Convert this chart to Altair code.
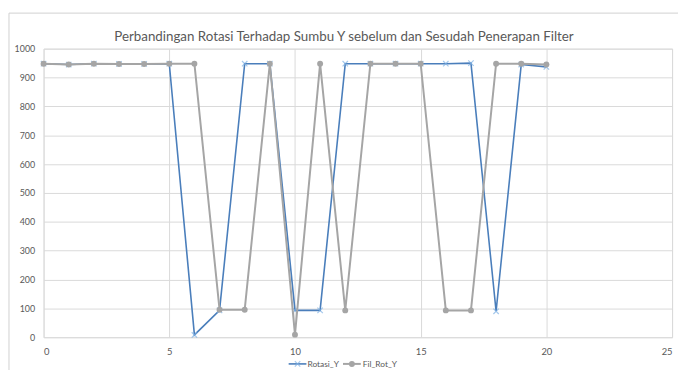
import altair as alt
import pandas as pd

title_text = "Perbandingan Rotasi Terhadap Sumbu Y sebelum dan Sesudah Penerapan Filter"
x_index = list(range(21))
rotasi_y = [948, 945, 948, 947, 947, 948, 8, 93, 948, 948, 93, 93, 948, 948, 948, 948, 948, 950, 90, 945, 937]
fil_rot_y = [948, 945, 948, 947, 947, 948, 948, 95, 95, 948, 9, 948, 93, 948, 948, 948, 93, 93, 948, 948, 945]
series_names = ["Rotasi_Y", "Fil_Rot_Y"]
x_ticks = [0, 5, 10, 15, 20, 25]
y_ticks = list(range(0, 1001, 100))

BLUE = "#4a7ebb"
BLUE_MK = "#7fb2e5"
GRAY = "#a5a5a5"
FONT = "Lato"
W, H = 636, 292

df = pd.DataFrame({
    "x": x_index * 2,
    "y": rotasi_y + fil_rot_y,
    "s": [series_names[0]] * 21 + [series_names[1]] * 21,
})
df_b = df[df.s == series_names[0]]
df_g = df[df.s == series_names[1]]

xs = alt.Scale(domain=[0, 25], nice=False, zero=False)
ys = alt.Scale(domain=[0, 1000], nice=False)


def xax():
    return alt.Axis(values=x_ticks, title=None, grid=True, gridColor="#d9d9d9", domain=False,
                    ticks=False, labelFontSize=9.5, labelColor="#595959", labelFont=FONT,
                    labelPadding=9, format="d", labelOverlap=False)


def yax():
    return alt.Axis(values=y_ticks, title=None, grid=True, gridColor="#d9d9d9", domain=False,
                    ticks=False, labelFontSize=9, labelColor="#595959", labelFont=FONT,
                    labelPadding=9, format="d", labelOverlap=False, tickCount=11)


def enc(ch):
    return ch.encode(x=alt.X("x:Q", scale=xs, axis=xax()), y=alt.Y("y:Q", scale=ys, axis=yax()))


line_b = enc(alt.Chart(df_b).mark_line(color=BLUE, strokeWidth=1.6))
pt_b = enc(alt.Chart(df_b).mark_point(shape="M-1,-1L1,1M-1,1L1,-1", filled=False, color=BLUE_MK,
                                      size=30, strokeWidth=1.2))
line_g = enc(alt.Chart(df_g).mark_line(color=GRAY, strokeWidth=2))
pt_g = enc(alt.Chart(df_g).mark_point(shape="circle", filled=True, color=GRAY, size=36, opacity=1))

title_df = pd.DataFrame({"t": [title_text]})
title = alt.Chart(title_df).mark_text(font=FONT, fontSize=13.5, color="#595959", align="center",
                                      baseline="middle").encode(
    text="t:N", x=alt.value(304), y=alt.value(-12))

# chart-area border (left and top)
border_l = alt.Chart(title_df).mark_rule(color="#d0d0d0", strokeWidth=1).encode(
    x=alt.value(-35), y=alt.value(-36), y2=alt.value(H + 40))
border_t = alt.Chart(title_df).mark_rule(color="#d0d0d0", strokeWidth=1).encode(
    x=alt.value(-35), x2=alt.value(W + 6), y=alt.value(-36))

# legend
LY = 319
leg_df_b = pd.DataFrame({"t": [series_names[0]]})
leg_df_g = pd.DataFrame({"t": [series_names[1]]})
lg_line_b = alt.Chart(leg_df_b).mark_rule(color=BLUE, strokeWidth=1.6).encode(
    x=alt.value(248), x2=alt.value(266), y=alt.value(LY))
lg_pt_b = alt.Chart(leg_df_b).mark_point(shape="M-1,-1L1,1M-1,1L1,-1", filled=False, color=BLUE_MK,
                                         size=30, strokeWidth=1.2).encode(
    x=alt.value(257), y=alt.value(LY))
lg_tx_b = alt.Chart(leg_df_b).mark_text(font=FONT, fontSize=8.5, color="#595959", align="left",
                                        baseline="middle").encode(
    text="t:N", x=alt.value(267), y=alt.value(LY))
lg_line_g = alt.Chart(leg_df_g).mark_rule(color=GRAY, strokeWidth=2).encode(
    x=alt.value(303), x2=alt.value(321), y=alt.value(LY))
lg_pt_g = alt.Chart(leg_df_g).mark_point(shape="circle", filled=True, color=GRAY, size=36, opacity=1).encode(
    x=alt.value(312), y=alt.value(LY))
lg_tx_g = alt.Chart(leg_df_g).mark_text(font=FONT, fontSize=8.5, color="#595959", align="left",
                                        baseline="middle").encode(
    text="t:N", x=alt.value(323), y=alt.value(LY))

chart = alt.layer(
    line_b, pt_b, line_g, pt_g, title, border_l, border_t,
    lg_line_b, lg_pt_b, lg_tx_b, lg_line_g, lg_pt_g, lg_tx_g,
).properties(
    width=W, height=H,
    autosize=alt.AutoSizeParams(type="none"),
    padding={"left": 36, "top": 39, "right": 6, "bottom": 31},
).configure_view(stroke=None).configure(background="white")

chart.save("out.html", embed_options={"renderer": "svg", "actions": False})
